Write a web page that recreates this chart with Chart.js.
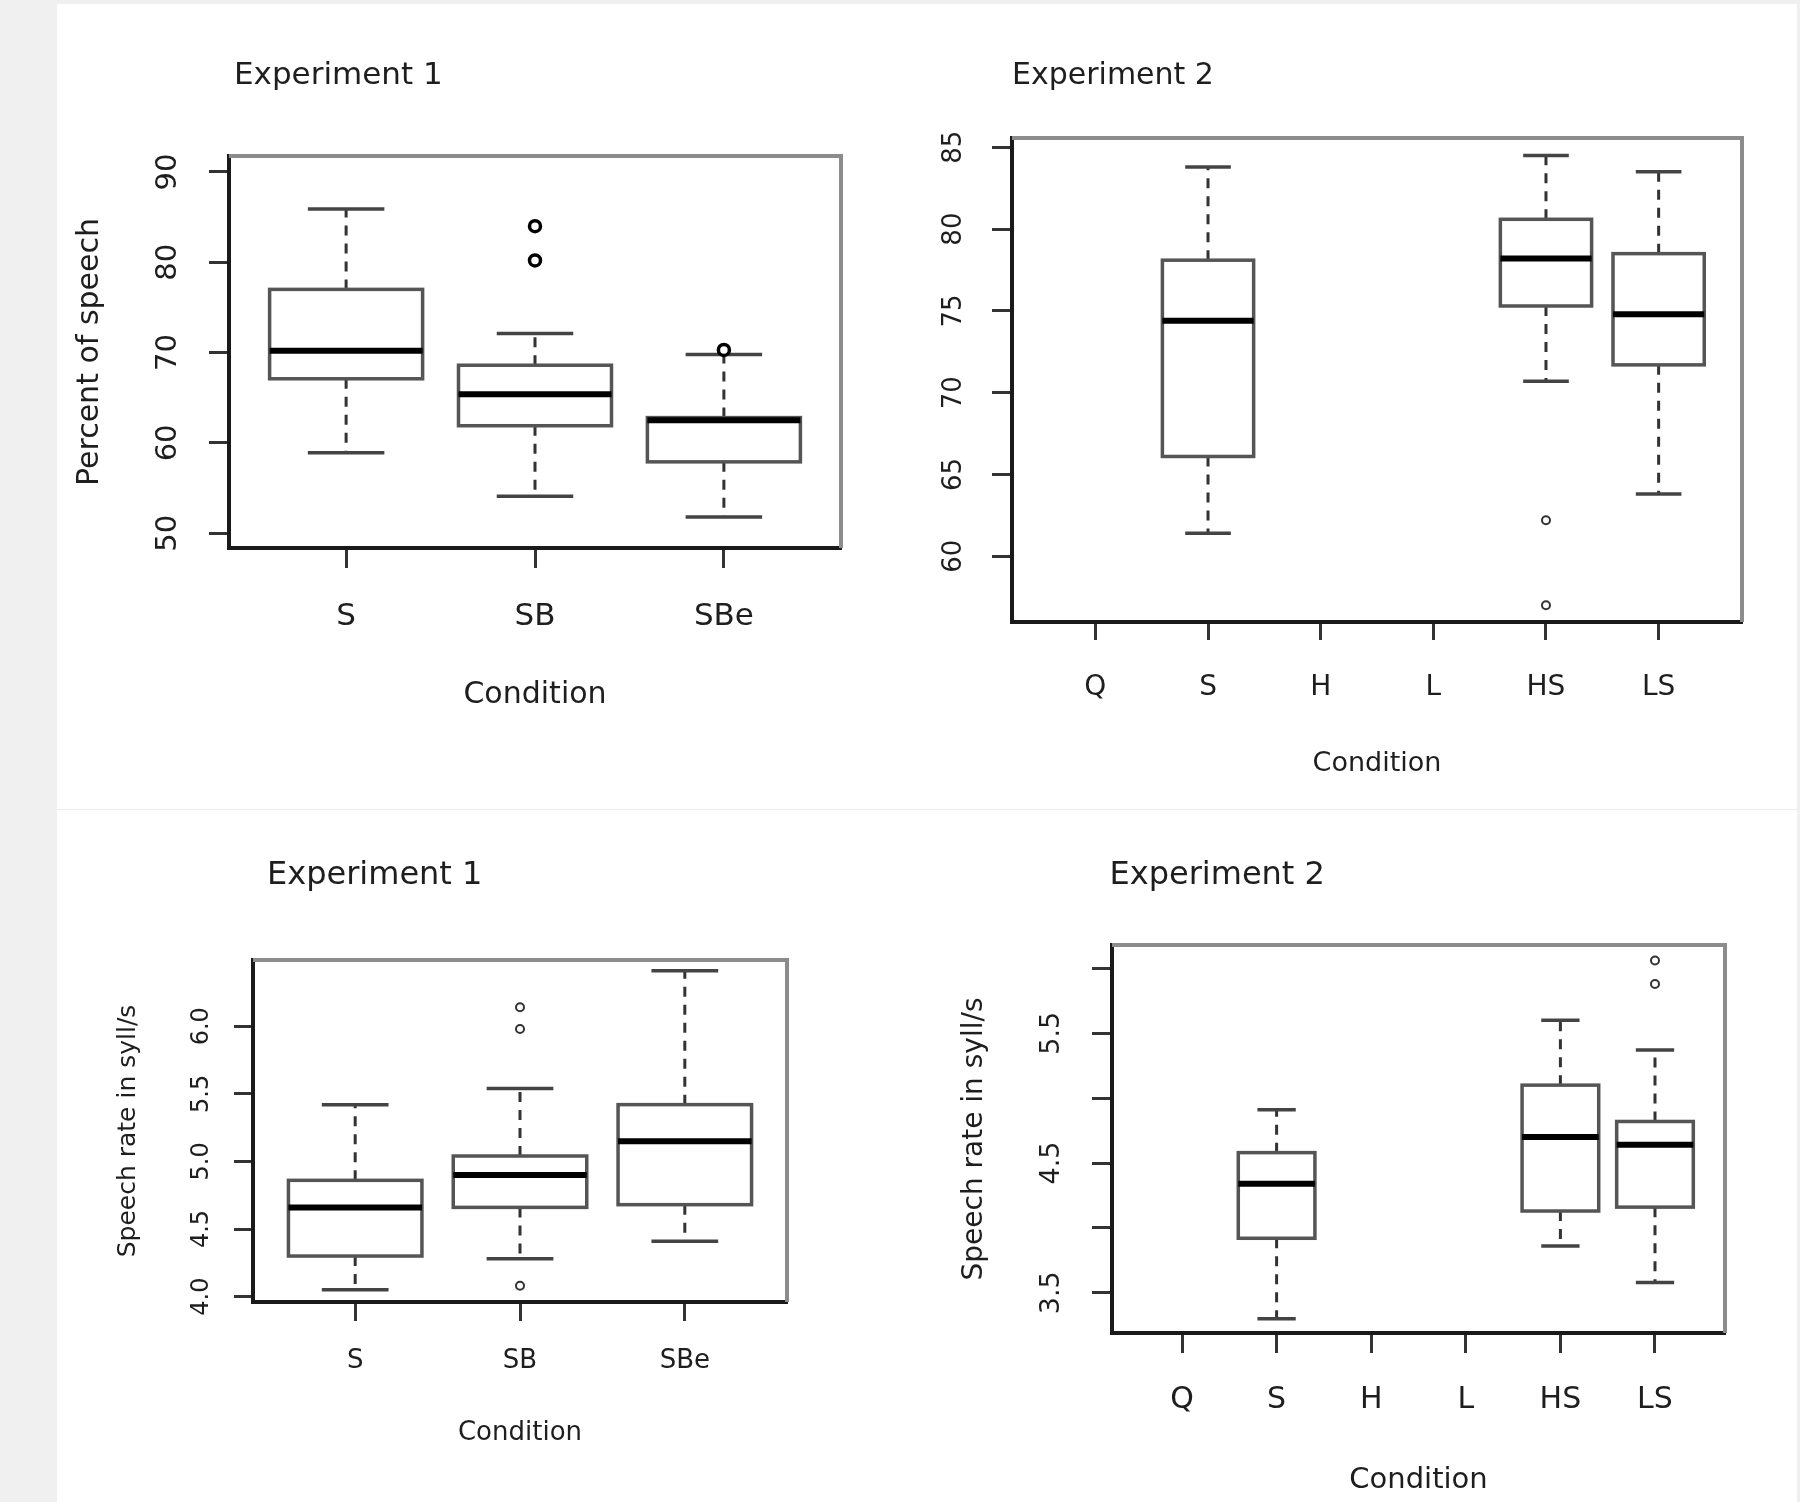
<!DOCTYPE html>
<html>
<head>
<meta charset="utf-8">
<title>Percent of speech and speech rate by condition</title>
<script src="https://cdn.jsdelivr.net/npm/chart.js@4.4.1/dist/chart.umd.min.js"></script>
<style>
  html, body { margin: 0; padding: 0; }
  body { width: 1800px; height: 1502px; background: #f0f0f0; position: relative; overflow: hidden; }
  #sheet { position: absolute; left: 57px; top: 4px; width: 1740px; height: 1498px; background: #fff; }
  #divider { position: absolute; left: 57px; top: 809px; width: 1740px; height: 1px; background: #ececec; }
  .panel { position: absolute; }
  canvas { display: block; }
</style>
</head>
<body>
<div id="sheet"></div>
<div id="divider"></div>
<div class="panel" style="left:57px;top:4px"><canvas id="pctExp1"></canvas></div>
<div class="panel" style="left:900px;top:4px"><canvas id="pctExp2"></canvas></div>
<div class="panel" style="left:57px;top:810px"><canvas id="rateExp1"></canvas></div>
<div class="panel" style="left:900px;top:810px"><canvas id="rateExp2"></canvas></div>
<script>
// conditions
const exp1Conditions = ['S', 'SB', 'SBe'];
const exp2Conditions = ['Q', 'S', 'H', 'L', 'HS', 'LS'];

// Percent of speech, experiment 1
const pctExp1Low    = [58.9, 54.1, 51.8];
const pctExp1Q1     = [67.1, 61.9, 57.9];
const pctExp1Median = [70.2, 65.4, 62.5];
const pctExp1Q3     = [77.0, 68.6, 62.8];
const pctExp1High   = [85.9, 72.1, 69.8];
const pctExp1Out    = [[], [84.0, 80.2], [70.3]];

// Percent of speech, experiment 2 (Q, H and L have no data)
const pctExp2Low    = [null, 61.4, null, null, 70.7, 63.8];
const pctExp2Q1     = [null, 66.1, null, null, 75.3, 71.7];
const pctExp2Median = [null, 74.4, null, null, 78.2, 74.8];
const pctExp2Q3     = [null, 78.1, null, null, 80.6, 78.5];
const pctExp2High   = [null, 83.8, null, null, 84.5, 83.5];
const pctExp2Out    = [[], [], [], [], [62.2, 57.0], []];

// Speech rate (syll/s), experiment 1
const rateExp1Low    = [4.05, 4.28, 4.41];
const rateExp1Q1     = [4.30, 4.66, 4.68];
const rateExp1Median = [4.66, 4.90, 5.15];
const rateExp1Q3     = [4.86, 5.04, 5.42];
const rateExp1High   = [5.42, 5.54, 6.41];
const rateExp1Out    = [[], [6.14, 5.98, 4.08], []];

// Speech rate (syll/s), experiment 2
const rateExp2Low    = [null, 3.30, null, null, 3.86, 3.58];
const rateExp2Q1     = [null, 3.92, null, null, 4.13, 4.16];
const rateExp2Median = [null, 4.34, null, null, 4.70, 4.64];
const rateExp2Q3     = [null, 4.58, null, null, 5.10, 4.82];
const rateExp2High   = [null, 4.91, null, null, 5.60, 5.37];
const rateExp2Out    = [[], [], [], [], [], [6.06, 5.88]];

// y tick values and which of them carry a label
const pctExp1Ticks = [50, 60, 70, 80, 90];
const pctExp2Ticks = [60, 65, 70, 75, 80, 85];
const rateExp1Ticks = [4.0, 4.5, 5.0, 5.5, 6.0];
const rateExp2Ticks = [3.5, 4.0, 4.5, 5.0, 5.5, 6.0];
const rateExp2Labelled = [3.5, 4.5, 5.5];

const FONT = '"DejaVu Sans", "Liberation Sans", sans-serif';
const INK = '#1e1e1e';

function outlierPoints(out) {
    const pts = [];
    out.forEach((vals, i) => vals.forEach(v => pts.push({ x: i + 1, y: v })));
    return pts;
}

// draws the boxes, whiskers and medians through the chart's own scales
function boxPlugin(stats, st) {
    return {
        id: 'boxes',
        beforeDatasetsDraw(chart) {
            const { ctx, chartArea: a, scales: { x, y } } = chart;
            const py = v => y.getPixelForValue(v);
            const seg = (x1, y1, x2, y2) => { ctx.beginPath(); ctx.moveTo(x1, y1); ctx.lineTo(x2, y2); ctx.stroke(); };
            ctx.save();
            // rest of the plot frame (top and right)
            ctx.strokeStyle = '#8c8c8c';
            ctx.lineWidth = 4;
            ctx.beginPath();
            ctx.moveTo(a.left, a.top);
            ctx.lineTo(a.right, a.top);
            ctx.lineTo(a.right, a.bottom);
            ctx.stroke();

            stats.median.forEach((m, i) => {
                if (m == null) return;
                const cx = x.getPixelForValue(i + 1);
                const half = x.getPixelForValue(i + 1 + st.boxWidth / 2) - cx;
                // whiskers
                ctx.strokeStyle = '#333';
                ctx.lineWidth = st.whisker;
                ctx.setLineDash([10, 8]);
                seg(cx, py(stats.q3[i]), cx, py(stats.high[i]));
                seg(cx, py(stats.q1[i]), cx, py(stats.low[i]));
                ctx.setLineDash([]);
                // staples
                ctx.strokeStyle = '#444';
                ctx.lineWidth = st.line;
                seg(cx - half / 2, py(stats.high[i]), cx + half / 2, py(stats.high[i]));
                seg(cx - half / 2, py(stats.low[i]), cx + half / 2, py(stats.low[i]));
                // box
                const top = py(stats.q3[i]), bot = py(stats.q1[i]);
                ctx.fillStyle = '#fff';
                ctx.fillRect(cx - half, top, half * 2, bot - top);
                ctx.strokeStyle = '#555';
                ctx.strokeRect(cx - half, top, half * 2, bot - top);
                // median
                ctx.strokeStyle = '#000';
                ctx.lineWidth = st.median;
                seg(cx - half, py(m), cx + half, py(m));
            });
            ctx.restore();
        }
    };
}

function headingPlugin(text, x, y, size) {
    return {
        id: 'heading',
        afterDraw(chart) {
            const ctx = chart.ctx;
            ctx.save();
            ctx.font = size + 'px ' + FONT;
            ctx.fillStyle = INK;
            ctx.textAlign = 'left';
            ctx.textBaseline = 'alphabetic';
            ctx.fillText(text, x, y);
            ctx.restore();
        }
    };
}

function makePanel(id, p) {
    const canvas = document.getElementById(id);
    canvas.width = p.w;
    canvas.height = p.h;
    const a = p.area;
    const st = p.style;
    return new Chart(canvas, {
        type: 'scatter',
        data: {
            datasets: [{
                data: outlierPoints(p.stats.out),
                pointStyle: 'circle',
                pointRadius: st.pointRadius,
                borderWidth: st.pointBorder,
                borderColor: st.pointColor,
                backgroundColor: '#fff'
            }]
        },
        options: {
            responsive: false,
            animation: false,
            events: [],
            layout: { padding: { top: a.top, right: p.w - a.right, left: 0, bottom: 0 } },
            plugins: { legend: { display: false }, tooltip: { enabled: false } },
            scales: {
                x: {
                    type: 'linear',
                    min: p.xRange[0],
                    max: p.xRange[1],
                    afterBuildTicks: s => { s.ticks = p.cats.map((c, i) => ({ value: i + 1 })); },
                    afterFit: s => { s.height = p.h - a.bottom; },
                    ticks: {
                        autoSkip: false, maxRotation: 0,
                        callback: v => p.cats[v - 1],
                        font: { family: FONT, size: p.xTick.size },
                        color: INK,
                        padding: p.xTick.pad
                    },
                    grid: { drawOnChartArea: false, tickLength: p.xTick.len, tickWidth: 3, tickColor: '#333' },
                    border: { display: true, color: '#1a1a1a', width: 4 },
                    title: {
                        display: true, text: 'Condition', color: INK,
                        font: { family: FONT, size: p.xTitle.size },
                        padding: { top: 0, bottom: p.xTitle.pad }
                    }
                },
                y: {
                    type: 'linear',
                    min: p.yRange[0],
                    max: p.yRange[1],
                    afterBuildTicks: s => { s.ticks = p.yTicks.map(v => ({ value: v })); },
                    afterFit: s => { s.width = a.left; },
                    ticks: {
                        autoSkip: false, minRotation: 90, maxRotation: 90, crossAlign: 'center',
                        callback: v => (p.yLabelled.includes(v) ? v.toFixed(p.yDigits) : ''),
                        font: { family: FONT, size: p.yTick.size },
                        color: INK,
                        padding: p.yTick.pad
                    },
                    grid: { drawOnChartArea: false, tickLength: p.yTick.len, tickWidth: 3, tickColor: '#333' },
                    border: { display: true, color: '#1a1a1a', width: 4 },
                    title: {
                        display: !!p.yTitle, text: p.yTitle ? p.yTitle.text : '', color: INK,
                        font: { family: FONT, size: p.yTitle ? p.yTitle.size : 12 },
                        padding: { top: p.yTitle ? p.yTitle.pad : 0, bottom: 0 }
                    }
                }
            }
        },
        plugins: [boxPlugin(p.stats, st), headingPlugin(p.heading.text, p.heading.x, p.heading.y, p.heading.size)]
    });
}

const boldStyle = { boxWidth: 0.81, line: 3.5, median: 6, whisker: 3, pointRadius: 5.5, pointBorder: 3.5, pointColor: '#000' };
const thinStyle = { boxWidth: 0.81, line: 3.5, median: 6, whisker: 3, pointRadius: 4, pointBorder: 2, pointColor: '#333' };

makePanel('pctExp1', {
    w: 843, h: 804, area: { left: 172, right: 784, top: 152, bottom: 544 },
    cats: exp1Conditions, xRange: [0.38, 3.62], yRange: [48.36, 91.77],
    yTicks: pctExp1Ticks, yLabelled: pctExp1Ticks, yDigits: 0,
    stats: { low: pctExp1Low, q1: pctExp1Q1, median: pctExp1Median, q3: pctExp1Q3, high: pctExp1High, out: pctExp1Out },
    heading: { text: 'Experiment 1', x: 177, y: 80, size: 31 },
    yTitle: { text: 'Percent of speech', size: 30, pad: 15.6 },
    yTick: { size: 29, pad: 22.5, len: 20 },
    xTick: { size: 31, pad: 30.7, len: 20 },
    xTitle: { size: 30, pad: 95 },
    style: boldStyle
});

makePanel('pctExp2', {
    w: 897, h: 804, area: { left: 112, right: 842, top: 134, bottom: 618 },
    cats: exp2Conditions, xRange: [0.26, 6.74], yRange: [55.98, 85.57],
    yTicks: pctExp2Ticks, yLabelled: pctExp2Ticks, yDigits: 0,
    stats: { low: pctExp2Low, q1: pctExp2Q1, median: pctExp2Median, q3: pctExp2Q3, high: pctExp2High, out: pctExp2Out },
    heading: { text: 'Experiment 2', x: 112, y: 80, size: 30 },
    yTitle: null,
    yTick: { size: 26, pad: 21, len: 20 },
    xTick: { size: 28, pad: 30.7, len: 18 },
    xTitle: { size: 27, pad: 27.8 },
    style: thinStyle
});

makePanel('rateExp1', {
    w: 843, h: 692, area: { left: 196, right: 730, top: 150, bottom: 492 },
    cats: exp1Conditions, xRange: [0.38, 3.62], yRange: [3.96, 6.49],
    yTicks: rateExp1Ticks, yLabelled: rateExp1Ticks, yDigits: 1,
    stats: { low: rateExp1Low, q1: rateExp1Q1, median: rateExp1Median, q3: rateExp1Q3, high: rateExp1High, out: rateExp1Out },
    heading: { text: 'Experiment 1', x: 210, y: 74, size: 32 },
    yTitle: { text: 'Speech rate in syll/s', size: 25, pad: 56.6 },
    yTick: { size: 24, pad: 13, len: 19 },
    xTick: { size: 26, pad: 25, len: 19 },
    xTitle: { size: 26, pad: 53 },
    style: thinStyle
});

makePanel('rateExp2', {
    w: 897, h: 692, area: { left: 212, right: 825, top: 135, bottom: 523 },
    cats: exp2Conditions, xRange: [0.26, 6.74], yRange: [3.19, 6.18],
    yTicks: rateExp2Ticks, yLabelled: rateExp2Labelled, yDigits: 1,
    stats: { low: rateExp2Low, q1: rateExp2Q1, median: rateExp2Median, q3: rateExp2Q3, high: rateExp2High, out: rateExp2Out },
    heading: { text: 'Experiment 2', x: 209.5, y: 74, size: 32 },
    yTitle: { text: 'Speech rate in syll/s', size: 28, pad: 57.8 },
    yTick: { size: 27, pad: 18.5, len: 20 },
    xTick: { size: 30, pad: 29.4, len: 20 },
    xTitle: { size: 29, pad: 4.2 },
    style: thinStyle
});
</script>
</body>
</html>
